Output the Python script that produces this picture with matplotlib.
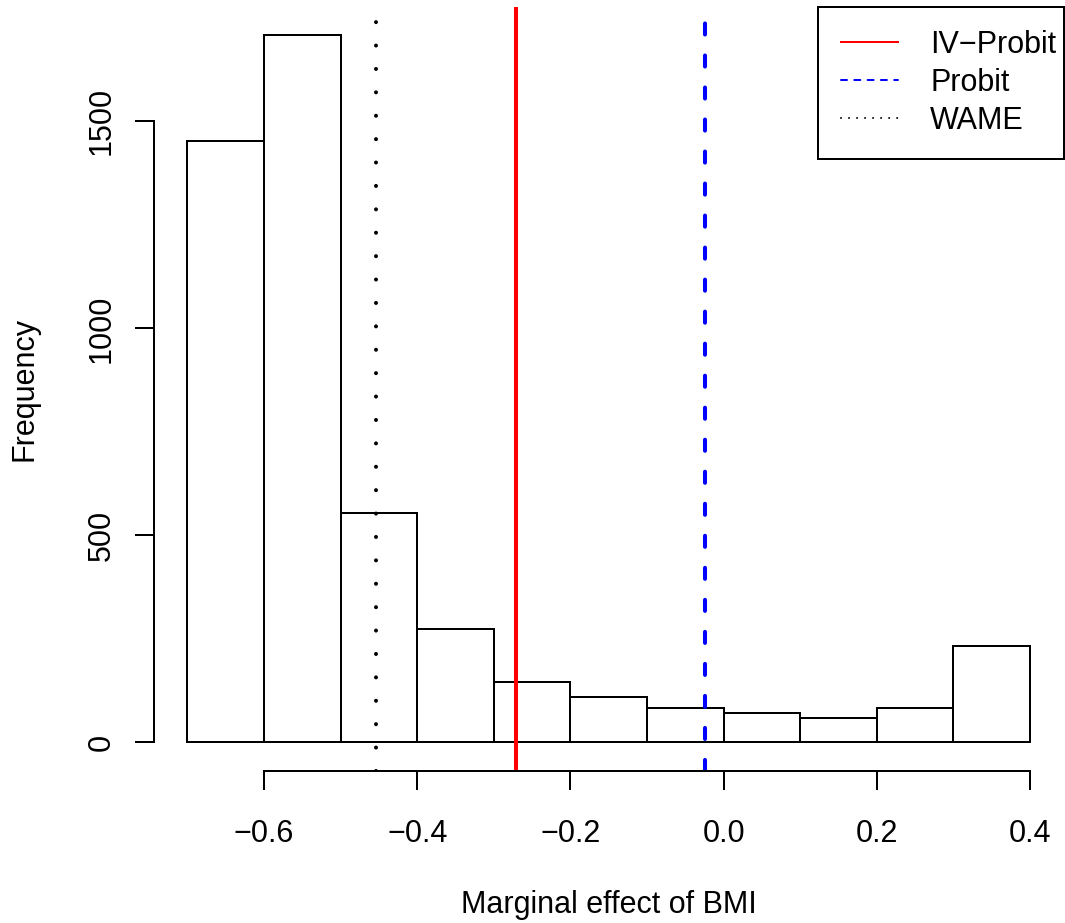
import numpy as np
import matplotlib
matplotlib.use('Agg')
import matplotlib.pyplot as plt
from matplotlib.lines import Line2D

plt.rcParams['font.family'] = ['Liberation Sans', 'DejaVu Sans']

# histogram of marginal effects (bin edges and counts)
bin_edges = [-0.7, -0.6, -0.5, -0.4, -0.3, -0.2, -0.1, 0.0, 0.1, 0.2, 0.3, 0.4]
counts = [1452, 1708, 553, 275, 145, 109, 83, 72, 59, 84, 232]

# reference lines
iv_probit = -0.271
probit = -0.024
wame = -0.454

x_ticks = [-0.6, -0.4, -0.2, 0.0, 0.2, 0.4]
x_ticklabels = ['\u22120.6', '\u22120.4', '\u22120.2', '0.0', '0.2', '0.4']
y_ticks = [0, 500, 1000, 1500]

W, H = 1065, 923
fig = plt.figure(figsize=(W / 100, H / 100), dpi=100)
left, right, top, bottom = 153.7, 1063.7, 7, 770.7
ax = fig.add_axes([left / W, 1 - bottom / H, (right - left) / W, (bottom - top) / H])

fs = 22
lw = 1.44

edges = np.array(bin_edges)
ax.bar(edges[:-1], counts, width=np.diff(edges), align='edge',
       facecolor='white', edgecolor='black', linewidth=lw)

ax.axvline(iv_probit, color='red', linewidth=2.9, solid_capstyle='butt')
ax.axvline(probit, color='blue', linewidth=2.9, linestyle=(0, (2.75, 5.2)),
           dash_capstyle='round')
ax.axvline(wame, color='black', linewidth=2.9, linestyle=(0, (0.01, 5.8)),
           dash_capstyle='round')

ax.set_xlim(-0.744, 0.444)
ax.set_ylim(-68.3, 1776.3)

for s in ['top', 'right']:
    ax.spines[s].set_visible(False)
ax.spines['left'].set_bounds(0, 1500)
ax.spines['bottom'].set_bounds(-0.6, 0.4)
for s in ['left', 'bottom']:
    ax.spines[s].set_linewidth(lw)

ax.set_xticks(x_ticks)
ax.set_xticklabels(x_ticklabels)
ax.set_yticks(y_ticks)
ax.tick_params(axis='both', length=13.7, width=lw, labelsize=fs)
ax.tick_params(axis='x', pad=21)
ax.tick_params(axis='y', pad=13, labelrotation=90)
for lab in ax.get_yticklabels():
    lab.set_va('center')

fig.text(608.7 / W, 1 - 913 / H, 'Marginal effect of BMI', fontsize=fs,
         ha='center', va='baseline')
fig.text(33 / W, 1 - 388.9 / H, 'Frequency', fontsize=fs, rotation=90,
         rotation_mode='anchor', ha='center', va='baseline')

handles = [
    Line2D([], [], color='red', linewidth=lw),
    Line2D([], [], color='blue', linewidth=lw, linestyle=(0, (3, 3.65)),
           dash_capstyle='round'),
    Line2D([], [], color='black', linewidth=lw, linestyle=(0, (0.01, 4)),
           dash_capstyle='round'),
]
# legend box spans x 818..1063.7 px, anchored to the top right of the plot region
lx0 = (818 - left) / (right - left)
leg = ax.legend(handles, ['IV\u2212Probit', 'Probit', 'WAME'],
                loc='upper right', bbox_to_anchor=(lx0, 0, 1 - lx0, 1),
                mode='expand', borderaxespad=0,
                fontsize=fs, frameon=True, fancybox=False, framealpha=1,
                edgecolor='black', borderpad=0.75, labelspacing=0.26,
                handlelength=1.87, handletextpad=1.05)
leg.get_frame().set_linewidth(lw)

fig.savefig('out.png', dpi=100)
